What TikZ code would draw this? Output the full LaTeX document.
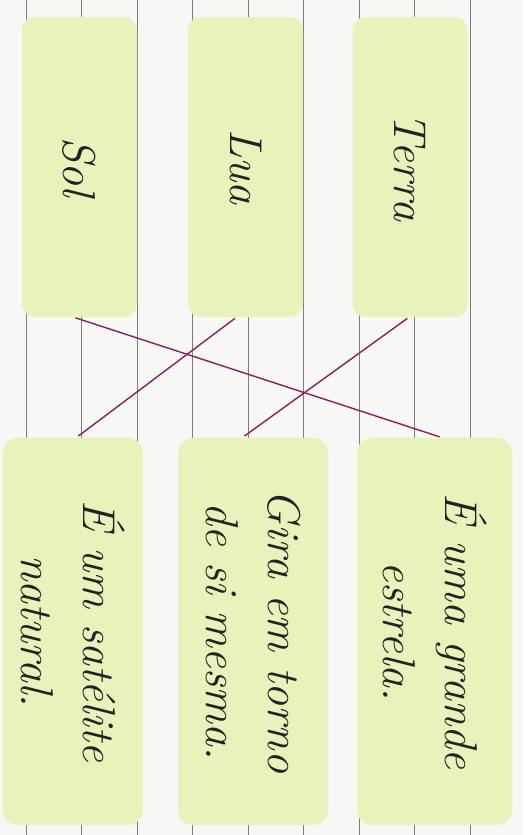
\documentclass[tikz,border=0pt]{standalone}
\usepackage{xcolor}
\usepackage{tikz}
\usetikzlibrary{positioning}

\definecolor{paper}{HTML}{F7F7F5}
\definecolor{ruling}{HTML}{7E7E7E}
\definecolor{cardfill}{HTML}{E8F2BB}
\definecolor{linkpurple}{HTML}{862255}
\definecolor{ink}{HTML}{222222}

\begin{document}
\begin{tikzpicture}[
x=1pt, y=1pt,
planet/.style={
  rectangle,
  rounded corners=13pt,
  fill=cardfill,
  rotate=-90,
  minimum width=300pt,
  minimum height=115pt,
  text=ink,
  font=\fontsize{46}{62}\selectfont\itshape
},
fact/.style={
  rectangle,
  rounded corners=15pt,
  fill=cardfill,
  rotate=-90,
  minimum width=387pt,
  align=center,
  text=ink,
  font=\fontsize{46}{62}\selectfont\itshape
},
  ruleline/.style={ruling, line width=0.6pt},
  link/.style={linkpurple, line width=1.4pt, shorten <=2pt, shorten >=3pt}
]

% ---- PAGE: ruled notebook sheet ----
\useasboundingbox (0,0) rectangle (523,835);
\fill[paper] (0,0) rectangle (523,835);
\foreach \x in {26,81.5,...,470}
  \draw[ruleline] (\x,0) -- (\x,835);

% ---- TOP ROW: names ----
\node[planet] (sol)   at (79.5, 668) {Sol};
\node[planet] (lua)   at (245.5,668) {Lua};
\node[planet] (terra) at (410,  668) {Terra};

% ---- BOTTOM ROW: facts ----
\node[fact, minimum height=140pt] (satelite) at (73,   203.5) {É um satélite\\natural.};
\node[fact, minimum height=150pt] (torno)    at (253,  203.5) {Gira em torno\\de si mesma.};
\node[fact, minimum height=155pt] (estrela)  at (434.5,203.5) {É uma grande\\estrela.};

% ---- LINKS (rotated cards: east is bottom, west is top) ----
\draw[link] ([xshift=-6pt]sol.east)   -- ([xshift=8pt]estrela.west);
\draw[link] ([xshift=-9pt]lua.east)   -- ([xshift=3pt]satelite.west);
\draw[link] ([xshift=-1pt]terra.east) -- ([xshift=-11pt]torno.west);

\end{tikzpicture}
\end{document}
